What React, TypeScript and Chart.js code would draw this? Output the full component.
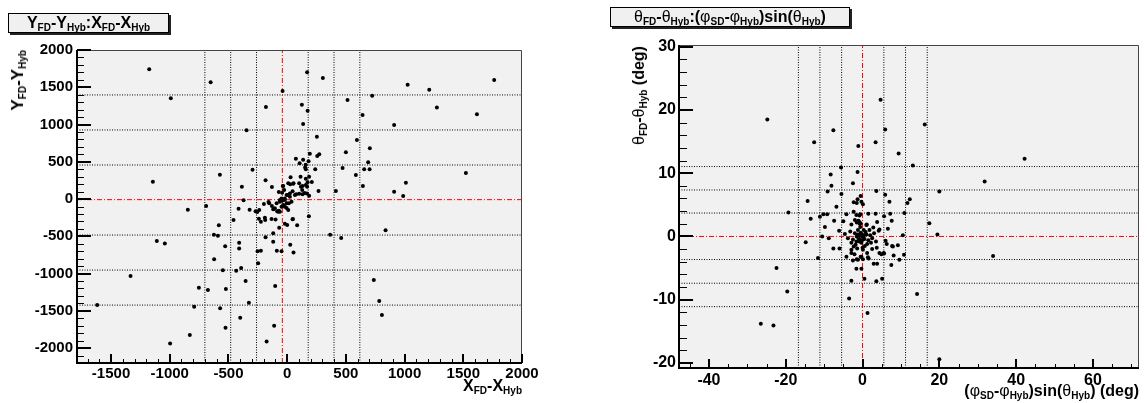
import React, { useEffect, useRef } from "react";
import { Chart, registerables } from "chart.js";

Chart.register(...registerables);

const FONT = '"Liberation Sans", Arial, Helvetica, sans-serif';

// ---------------- Panel 1: Y_FD-Y_Hyb vs X_FD-X_Hyb ----------------
const dxdyPoints: [number, number][] = [
  [-1175, 1741], [-991, 1351], [-652, 1566], [-181, 1235], [-39, 1449], [-346, 922], [-1144, 232],
  [-573, 326], [-295, 393], [-184, 251], [-386, 165], [-130, 161], [-37, 174], [-371, -17],
  [-690, -94], [-846, -143], [-414, -130], [-320, -143], [-269, -165], [-238, -148], [-255, -175],
  [-198, -67], [-159, -40], [-130, -94], [-113, -134], [-77, -170], [-71, 94], [-582, -353],
  [-457, -282], [-241, -264], [-224, -305], [-190, -251], [-187, -282], [-133, -268], [-99, -273],
  [-68, -385], [-20, -331], [0, -349], [-624, -479], [-590, -493], [-1110, -564], [-1042, -595],
  [-528, -635], [-409, -586], [-409, -662], [-184, -514], [-119, -460], [-119, -573], [-252, -702],
  [-224, -694], [-88, -694], [-48, -702], [-622, -809], [-548, -957], [-434, -962], [-392, -926],
  [-247, -863], [-1334, -1033], [-354, -1100], [-752, -1190], [-675, -1221], [-522, -1208],
  [-102, -1168], [-1618, -1423], [-792, -1445], [-571, -1467], [-326, -1392], [-400, -1593],
  [-525, -1727], [-111, -1700], [-829, -1825], [-997, -1937], [-175, -1910],
  [170, 1700], [304, 1624], [125, 1266], [174, 1185], [136, 1006], [253, 836], [193, 608],
  [256, 577], [273, 600], [74, 541], [136, 527], [106, 479], [157, 460], [153, 425], [159, 399],
  [182, 506], [239, 399], [29, 291], [114, 299], [159, 272], [187, 299], [26, 197], [54, 211],
  [102, 211], [131, 174], [159, 188], [174, 224], [170, 165], [210, 228], [-34, 174], [267, 107],
  [187, 44], [77, 63], [102, 71], [131, 63], [148, 81], [46, 103], [23, 76], [9, 54], [415, 107],
  [514, 1329], [724, 1386], [642, 1127], [594, 792], [500, 627], [704, 680], [690, 493],
  [656, 399], [702, 399], [472, 416], [585, 322], [645, 174], [911, 993], [1026, 1534],
  [1210, 1467], [1275, 1230], [1616, 1137], [1763, 1597], [1522, 349], [1011, 219], [911, 98],
  [988, 40], [838, -420], [185, -232], [46, -272], [85, -353], [54, -716], [366, -479],
  [460, -523], [738, -1087], [784, -1369], [807, -1557], [-153, -58], [-85, -165], [-71, -157],
  [26, -613], [49, -268],
  [-62, -13], [-43, -23], [-20, 9], [-5, -58], [14, -58], [-34, -81], [-20, -103], [-48, -103],
  [-90, -58], [-105, -125], [-119, -138], [-62, -170], [9, 211], [51, 206], [117, 165],
  [128, 121], [168, 76], [-43, 85], [-5, -121], [9, -148], [-48, 9], [-20, -13], [23, 31],
  [37, -36], [-62, -36], [66, 54], [-5, 54], [-26, 121],
];
const dxdyXTicks = [-1500, -1000, -500, 0, 500, 1000, 1500, 2000];
const dxdyYTicks = [-2000, -1500, -1000, -500, 0, 500, 1000, 1500, 2000];
const dxdyXRange: [number, number] = [-1790, 2000];
const dxdyYRange: [number, number] = [-2200, 2000];
const dxdyMinorStep: [number, number] = [100, 100];
const dxdyXSigmaLines = [-701, -481, -261, 179, 399, 619];
const dxdyYSigmaLines = [1397, 927, 457, -483, -953, -1423];
const dxdyMean: [number, number] = [-41, -8];

// ---------------- Panel 2: θFD-θHyb vs (φSD-φHyb) sin(θHyb) ----------------
const angPoints: [number, number][] = [
  [-24.8, 18.5], [-7.6, 16.8], [-12.6, 14.9], [-1.1, 14.3], [3.4, 14.9], [-5.6, 10.9],
  [-1.3, 10.2], [-8.3, 9.8], [-2.5, 8.4], [-8.1, 8.0], [-9.1, 7.1], [3.6, 7.2], [-5.5, 6.7],
  [-0.5, 6.4], [-14.3, 5.6], [-2.3, 5.4], [-1.3, 5.9], [-1.5, 5.3], [-0.3, 5.5], [0.1, 5.1],
  [-6.8, 4.7], [-19.3, 3.8], [-4.2, 3.5], [-2.3, 3.9], [-1.6, 3.4], [-0.6, 3.5], [1.5, 3.6],
  [3.4, 3.6], [-10.2, 3.5], [-9.2, 3.5], [-11.1, 3.1], [-13.5, 2.8], [-7.4, 2.5], [-9.8, 1.5],
  [-6.1, 0.9], [-5.0, 2.4], [-2.9, 1.9], [-10.5, 0], [-8.8, -0.3], [-14.8, -0.9], [-7.6, -1.9],
  [-6.0, -1.9], [-11.6, -3.4], [-4.6, 0.4], [-22.4, -5.0], [-1.6, -5.1], [-0.3, -5.1],
  [-2.9, -7.0], [0.5, -6.7], [-19.6, -8.7], [-3.5, -9.8], [1.3, -12.1], [-26.5, -13.8],
  [-23.2, -14.1], [4.7, 21.6], [5.9, 16.9], [16.2, 17.7], [9.4, 13.1], [13.1, 11.2],
  [42.2, 12.3], [31.8, 8.7], [20.0, 7.1], [5.9, 6.6], [7.0, 5.5], [12.3, 5.9], [11.7, 5.3],
  [7.2, 3.6], [10.9, 3.7], [5.6, 3.2], [7.6, 2.5], [3.8, 2.3], [17.4, 2.1], [1.1, 1.9],
  [6.6, 1.2], [4.4, 1.1], [19.5, 0.3], [10.5, 0.2], [7.9, -1.6], [9.2, -1.4], [10.8, -2.9],
  [9.6, -3.7], [8.1, -3.0], [7.5, -4.5], [5.6, -2.7], [4.9, -2.8], [2.9, -4.3], [3.8, -4.3],
  [1.6, -3.5], [0.1, -3.6], [34.0, -3.1], [5.1, -6.7], [3.6, -7.1], [14.2, -9.1], [20.0, -19.4],
  [-0.8, 3.3], [-1.0, 2.4], [-0.5, 2.1], [4.2, 0.9], [6.0, -0.7], [6.3, -1.2], [7.7, -1.5],
  [3.7, -1.8], [5.5, -2.6], [4.4, -2.6], [-2.9, -2.1], [-2.1, -2.8], [-0.3, -3.2], [-1.2, -3.7],
  [-4.2, -3.2], [-2.5, -3.8], [1.4, -3.3], [1.2, -2.6], [-3.8, -0.3], [-2.9, -1.0], [-2.3, -1.6],
  [-1.6, -0.8], [-0.8, -0.5], [-1.2, 0.3], [-2.9, -2.6], [-1.5, -3.6], [-0.5, -3.2], [0.1, -2.1],
  [-2.0, 2.6], [-1.1, 2.5], [-0.8, 2.1], [-1.5, 2.2], [-1.0, 2.3], [-0.7, 2.0],
  [-2.0, 0.5], [-1.5, 0.0], [-1.0, -0.3], [-0.5, 0.6], [0.0, 0.0], [0.5, -0.4], [1.0, 0.3],
  [1.5, -0.6], [2.0, 0.2], [-0.3, -1.0], [0.3, 1.0], [-1.2, 1.0], [1.2, -1.2], [2.5, -0.3],
  [-2.5, -0.5], [0.8, 0.7], [-0.8, -0.8], [0.2, -0.2], [-0.2, 0.4], [1.8, 1.0], [-1.8, -1.3],
  [2.2, -1.0], [0.6, -1.5], [-0.6, 1.5], [3.0, 0.5], [2.8, 1.4], [-3.2, 0.8], [1.0, 1.8],
  [0.0, -1.8], [-1.4, -1.9], [3.5, -0.8], [2.5, -2.0], [-0.9, 0.1], [0.4, 0.2], [-0.1, -0.6],
];
const angXTicks = [-40, -20, 0, 20, 40, 60];
const angYTicks = [-20, -10, 0, 10, 20, 30];
const angXRange: [number, number] = [-47.8, 72];
const angYRange: [number, number] = [-20.8, 30.27];
const angMinorStep: [number, number] = [5, 2];
const angXSigmaLines = [-16.7, -11.1, -5.45, 5.55, 11.2, 16.85];
const angYSigmaLines = [11.05, 7.35, 3.7, -3.65, -7.4, -11.1];
const angMean: [number, number] = [0, 0];

type Spec = {
  points: [number, number][];
  xTicks: number[];
  yTicks: number[];
  xRange: [number, number];
  yRange: [number, number];
  minor: [number, number];
  vLines: number[];
  hLines: number[];
  mean: [number, number];
  width: number;
  yAxisW: number;
  xAxisH: number;
  padTop: number;
  padRight: number;
  fontSize: number;
  yLabelPad: number;
  xLabelPad: number;
  yMajorLen: number;
  yMinorLen: number;
  xMajorLen: number;
  xMinorLen: number;
};

const dxdySpec: Spec = {
  points: dxdyPoints, xTicks: dxdyXTicks, yTicks: dxdyYTicks, xRange: dxdyXRange,
  yRange: dxdyYRange, minor: dxdyMinorStep, vLines: dxdyXSigmaLines, hLines: dxdyYSigmaLines,
  mean: dxdyMean, width: 560, yAxisW: 77, xAxisH: 40, padTop: 50, padRight: 38, fontSize: 15,
  yLabelPad: 4, xLabelPad: 2, yMajorLen: 14, yMinorLen: 7, xMajorLen: 9, xMinorLen: 4,
};
const angSpec: Spec = {
  points: angPoints, xTicks: angXTicks, yTicks: angYTicks, xRange: angXRange,
  yRange: angYRange, minor: angMinorStep, vLines: angXSigmaLines, hLines: angYSigmaLines,
  mean: angMean, width: 567, yAxisW: 99, xAxisH: 35, padTop: 45, padRight: 8, fontSize: 16,
  yLabelPad: 3, xLabelPad: 3, yMajorLen: 14, yMinorLen: 8, xMajorLen: 9, xMinorLen: 4,
};

function minorValues(range: [number, number], step: number, majors: number[]) {
  const out: number[] = [];
  const start = Math.ceil(range[0] / step) * step;
  for (let v = start; v <= range[1] + 1e-9; v += step) {
    const r = Math.round(v * 1000) / 1000;
    if (!majors.some((m) => Math.abs(m - r) < 1e-6)) out.push(r);
  }
  return out;
}

const rootFrame = {
  id: "rootFrame",
  beforeDraw(chart: any) {
    const { ctx, chartArea: a } = chart;
    ctx.save();
    ctx.fillStyle = "#f1f1f1";
    ctx.fillRect(a.left, a.top, a.right - a.left, a.bottom - a.top);
    ctx.restore();
  },
  afterDraw(chart: any, _args: any, opts: any) {
    const spec: Spec = opts.spec;
    const { ctx, chartArea: a, scales } = chart;
    const xs = scales.x;
    const ys = scales.y;
    ctx.save();
    ctx.strokeStyle = "#444";
    ctx.lineWidth = 1;
    ctx.beginPath();
    ctx.moveTo(a.left, a.top + 0.5);
    ctx.lineTo(a.right - 0.5, a.top + 0.5);
    ctx.lineTo(a.right - 0.5, a.bottom);
    ctx.stroke();

    ctx.strokeStyle = "#000";
    ctx.lineWidth = 1;
    ctx.beginPath();
    for (const v of minorValues(spec.xRange, spec.minor[0], spec.xTicks)) {
      const p = Math.round(xs.getPixelForValue(v)) + 0.5;
      ctx.moveTo(p, a.bottom);
      ctx.lineTo(p, a.bottom - spec.xMinorLen);
    }
    for (const v of minorValues(spec.yRange, spec.minor[1], spec.yTicks)) {
      const p = Math.round(ys.getPixelForValue(v)) + 0.5;
      ctx.moveTo(a.left, p);
      ctx.lineTo(a.left + spec.yMinorLen, p);
    }
    ctx.stroke();
    ctx.lineWidth = 2;
    ctx.beginPath();
    for (const v of spec.xTicks) {
      const p = Math.round(xs.getPixelForValue(v));
      ctx.moveTo(p, a.bottom);
      ctx.lineTo(p, a.bottom - spec.xMajorLen);
    }
    for (const v of spec.yTicks) {
      const p = Math.round(ys.getPixelForValue(v));
      ctx.moveTo(a.left, p);
      ctx.lineTo(a.left + spec.yMajorLen, p);
    }
    ctx.stroke();

    ctx.lineWidth = 2;
    ctx.beginPath();
    ctx.moveTo(a.left, a.top);
    ctx.lineTo(a.left, a.bottom);
    ctx.lineTo(a.right, a.bottom);
    ctx.stroke();
    ctx.restore();
  },
};

function buildConfig(spec: Spec): any {
  const [x0, x1] = spec.xRange;
  const [y0, y1] = spec.yRange;
  const dotted = (data: { x: number; y: number }[]) => ({
    data, showLine: true, borderColor: "#000", borderWidth: 1, borderDash: [1, 1.5],
    pointRadius: 0, order: 2,
  });
  const red = (data: { x: number; y: number }[]) => ({
    data, showLine: true, borderColor: "#ff0000", borderWidth: 1, borderDash: [5, 2, 1, 2],
    pointRadius: 0, order: 1,
  });
  const tickFont = { family: FONT, size: spec.fontSize, weight: "bold" as const };
  return {
    type: "scatter",
    data: {
      datasets: [
        {
          data: spec.points.map(([x, y]) => ({ x, y })),
          pointRadius: 2, pointBackgroundColor: "#000", pointBorderWidth: 0,
          showLine: false, order: 0,
        },
        ...spec.vLines.map((v) => dotted([{ x: v, y: y0 }, { x: v, y: y1 }])),
        ...spec.hLines.map((v) => dotted([{ x: x0, y: v }, { x: x1, y: v }])),
        red([{ x: spec.mean[0], y: y0 }, { x: spec.mean[0], y: y1 }]),
        red([{ x: x0, y: spec.mean[1] }, { x: x1, y: spec.mean[1] }]),
      ],
    },
    options: {
      responsive: false,
      animation: false,
      devicePixelRatio: 1,
      layout: { padding: { left: 0, right: spec.padRight, top: spec.padTop, bottom: 0 } },
      plugins: {
        legend: { display: false },
        tooltip: { enabled: false },
        rootFrame: { spec },
      },
      events: [],
      scales: {
        x: {
          type: "linear", min: x0, max: x1,
          afterFit: (s: any) => { s.height = spec.xAxisH; },
          afterBuildTicks: (s: any) => { s.ticks = spec.xTicks.map((v) => ({ value: v })); },
          grid: { display: false, drawTicks: false },
          border: { display: false },
          ticks: {
            autoSkip: false, maxRotation: 0, minRotation: 0, color: "#000",
            font: tickFont, padding: spec.xLabelPad,
            callback: (v: number) => String(v),
          },
        },
        y: {
          type: "linear", min: y0, max: y1,
          afterFit: (s: any) => { s.width = spec.yAxisW; },
          afterBuildTicks: (s: any) => { s.ticks = spec.yTicks.map((v) => ({ value: v })); },
          grid: { display: false, drawTicks: false },
          border: { display: false },
          ticks: {
            autoSkip: false, color: "#000", font: tickFont, padding: spec.yLabelPad,
            callback: (v: number) => String(v),
          },
        },
      },
    },
    plugins: [rootFrame],
  };
}

function Panel({ spec, left }: { spec: Spec; left: number }) {
  const ref = useRef<HTMLCanvasElement>(null);
  useEffect(() => {
    const chart = new Chart(ref.current as HTMLCanvasElement, buildConfig(spec));
    return () => chart.destroy();
  }, []);
  return (
    <canvas
      ref={ref}
      width={spec.width}
      height={403}
      style={{ position: "absolute", left, top: 0, width: spec.width, height: 403 }}
    />
  );
}

// text segments: 0 = bold text, 1 = subscript, 2 = greek (normal weight)
type Seg = [string, number];
const dxdyTitle: Seg[] = [["Y", 0], ["FD", 1], ["-Y", 0], ["Hyb", 1], [":X", 0], ["FD", 1], ["-X", 0], ["Hyb", 1]];
const dxdyXTitle: Seg[] = [["X", 0], ["FD", 1], ["-X", 0], ["Hyb", 1]];
const dxdyYTitle: Seg[] = [["Y", 0], ["FD", 1], ["-Y", 0], ["Hyb", 1]];
const angTitle: Seg[] = [
  ["θ", 2], ["FD", 1], ["-", 0], ["θ", 2], ["Hyb", 1], [":(", 0], ["φ", 2], ["SD", 1], ["-", 0],
  ["φ", 2], ["Hyb", 1], [")sin(", 0], ["θ", 2], ["Hyb", 1], [")", 0],
];
const angXTitle: Seg[] = [
  ["(", 0], ["φ", 2], ["SD", 1], ["-", 0], ["φ", 2], ["Hyb", 1], [")sin(", 0], ["θ", 2],
  ["Hyb", 1], [") (deg)", 0],
];
const angYTitle: Seg[] = [["θ", 2], ["FD", 1], ["-", 0], ["θ", 2], ["Hyb", 1], [" (deg)", 0]];

function Rich({ segs, size, sub, drop }: { segs: Seg[]; size: number; sub: number; drop: number }) {
  return (
    <>
      {segs.map(([t, k], i) => (
        <span
          key={i}
          style={{
            fontSize: k === 1 ? sub : size,
            fontWeight: k === 2 ? 400 : 700,
            position: "relative",
            top: k === 1 ? drop : 0,
          }}
        >
          {t}
        </span>
      ))}
    </>
  );
}

const textBase: React.CSSProperties = {
  position: "absolute",
  whiteSpace: "nowrap",
  fontFamily: FONT,
  color: "#000",
};

function TitleBox({ segs, left, top, width }: { segs: Seg[]; left: number; top: number; width: number }) {
  return (
    <div
      style={{
        ...textBase,
        left, top, width, height: 20, boxSizing: "border-box",
        border: "1px solid #000", background: "#f0f0f0",
        boxShadow: "2px 2px 0 #222", textAlign: "center", lineHeight: "17px",
      }}
    >
      <Rich segs={segs} size={16} sub={10} drop={3} />
    </div>
  );
}

function XTitle({ segs, right, top }: { segs: Seg[]; right: number; top: number }) {
  return (
    <div style={{ ...textBase, left: right, top, lineHeight: "16px", transform: "translateX(-100%)" }}>
      <Rich segs={segs} size={16} sub={10} drop={3} />
    </div>
  );
}

function YTitle({ segs, left, end, size }: { segs: Seg[]; left: number; end: number; size: number }) {
  return (
    <div
      style={{
        ...textBase, left, top: end, lineHeight: `${size}px`,
        transform: "rotate(-90deg) translateX(-100%)", transformOrigin: "0 0",
      }}
    >
      <Rich segs={segs} size={size} sub={10} drop={3} />
    </div>
  );
}

export default function App() {
  return (
    <div style={{ position: "fixed", left: 0, top: 0, width: 1147, height: 403, background: "#fff", overflow: "hidden" }}>
      <Panel spec={dxdySpec} left={0} />
      <Panel spec={angSpec} left={580} />
      <TitleBox segs={dxdyTitle} left={8} top={13} width={161} />
      <TitleBox segs={angTitle} left={610} top={7} width={240} />
      <XTitle segs={dxdyXTitle} right={522} top={378} />
      <YTitle segs={dxdyYTitle} left={9} end={50} size={17} />
      <XTitle segs={angXTitle} right={1139} top={383} />
      <YTitle segs={angYTitle} left={631} end={46} size={16} />
    </div>
  );
}
